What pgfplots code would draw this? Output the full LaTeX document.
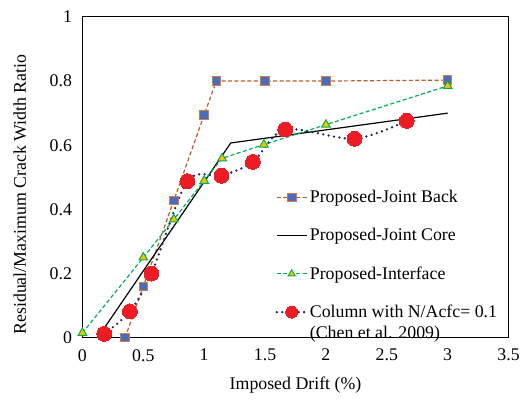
\documentclass[border=0pt]{standalone}
\usepackage{pgfplots}
\pgfplotsset{compat=1.18}
\usepackage{fontspec}
\setmainfont{Liberation Serif}
\definecolor{brownline}{RGB}{190,90,40}
\definecolor{sqfill}{RGB}{70,110,190}
\definecolor{sqdraw}{RGB}{220,120,70}
\definecolor{trifill}{RGB}{255,192,0}
\definecolor{grn}{RGB}{0,176,80}
\definecolor{redc}{RGB}{236,28,36}
\definecolor{navy}{RGB}{30,35,100}
\begin{document}
\begin{tikzpicture}
\begin{axis}[
  scale only axis,
  width=429bp, height=323bp,
  xmin=0, xmax=3.5, ymin=0, ymax=1,
  xtick={0,0.5,1,1.5,2,2.5,3,3.5},
  ytick={0,0.2,0.4,0.6,0.8,1},
  xticklabels={0,0.5,1,1.5,2,2.5,3,3.5},
  yticklabels={0,0.2,0.4,0.6,0.8,1},
  major tick length=0pt,
  axis line style={black, line width=0.9bp},
  tick label style={font=\fontsize{18}{21}\selectfont},
  xticklabel style={yshift=-8bp},
  yticklabel style={xshift=-7bp},
  xlabel={Imposed Drift (\%)},
  ylabel={Residual/Maximum Crack Width Ratio},
  label style={font=\fontsize{18}{21}\selectfont},
  xlabel style={at={([yshift=-48bp]rel axis cs:0.5,0)}, anchor=center},
  ylabel style={at={([xshift=-63bp]rel axis cs:0,0.446)}, anchor=center},
  clip=false,
  legend style={draw=none, fill=none, font=\fontsize{18}{21}\selectfont,
    at={(axis cs:1.56,0.472)}, anchor=north west, row sep=20.5bp,
    cells={anchor=west}},
  legend image code/.code={\draw[mark repeat=2,mark phase=2,#1] plot coordinates {(0bp,0bp) (15bp,0bp) (30bp,0bp)};},
]
\addplot[brownline, line width=1.2bp, dash pattern=on 4bp off 2.5bp,
  mark=square*, mark size=4.3bp, mark options={solid, fill=sqfill, draw=sqdraw, line width=1bp}]
  coordinates {(0.35,0.0) (0.5,0.16) (0.75,0.427) (1.0,0.695) (1.1,0.80) (1.5,0.80) (2.0,0.80) (3.0,0.803)};
\addlegendentry{Proposed-Joint Back}
\addplot[black, line width=1.2bp]
  coordinates {(0.125,0.0) (1.218,0.607) (3.0,0.70)};
\addlegendentry{Proposed-Joint Core}
\addplot[grn, line width=1.2bp, dash pattern=on 4bp off 2.5bp,
  mark=triangle*, mark size=5bp, mark options={solid, fill=trifill, draw=grn, line width=1bp},
  legend image post style={mark size=4bp}]
  coordinates {(0,0.015) (0.5,0.25) (0.75,0.369) (1.0,0.489) (1.147,0.559) (1.49,0.602) (2.0,0.664) (3.0,0.785)};
\addlegendentry{Proposed-Interface}
\addplot[navy, line width=2.6bp, line cap=round, dash pattern=on 0bp off 5.5bp, smooth, tension=0.5,
  mark=*, mark size=7.5bp, mark options={solid, fill=redc, draw=redc, line width=0bp},
  legend image post style={mark size=6bp}]
  coordinates {(0.179,0.012) (0.39,0.082) (0.567,0.2) (0.862,0.488) (1.142,0.505) (1.40,0.548) (1.665,0.649) (2.235,0.62) (2.663,0.676)};
\addlegendentry{\rlap{\raisebox{-21bp}[0pt][0pt]{(Chen et al. 2009)}}Column with N/Acfc= 0.1}
\path ([xshift=-83bp,yshift=-65bp]rel axis cs:0,0) rectangle ([xshift=11bp,yshift=17bp]rel axis cs:1,1);
\end{axis}
\end{tikzpicture}
\end{document}
